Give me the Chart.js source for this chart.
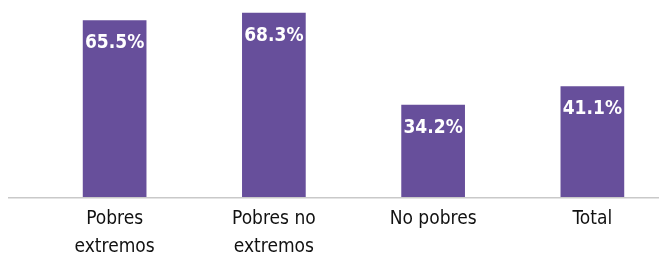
<!DOCTYPE html>
<html>
<head>
<meta charset="utf-8">
<script src="https://cdn.jsdelivr.net/npm/chart.js@4"></script>
<style>
  html, body { margin: 0; padding: 0; background: #fff; overflow: hidden; }
  #wrap { width: 672px; height: 269px; position: relative; }
</style>
</head>
<body>
<div id="wrap"><canvas id="povChart"></canvas></div>
<script>
const categories = [["Pobres", "extremos"], ["Pobres no", "extremos"], "No pobres", "Total"];
const values = [65.5, 68.3, 34.2, 41.1];
const valueLabels = ["65.5%", "68.3%", "34.2%", "41.1%"];

const fontFamily = '"Liberation Sans Narrow", "DejaVu Sans Condensed", "Roboto", sans-serif';

// draws the percent labels inside each bar
const barLabels = {
    id: 'barLabels',
    afterDatasetsDraw(chart) {
        const ctx = chart.ctx;
        const meta = chart.getDatasetMeta(0);
        ctx.save();
        ctx.fillStyle = '#ffffff';
        ctx.font = 'bold 19px ' + fontFamily;
        ctx.textAlign = 'center';
        ctx.textBaseline = 'middle';
        meta.data.forEach((bar, i) => {
            ctx.fillText(valueLabels[i], bar.x, bar.y + 23);
        });
        ctx.restore();
    }
};

// baseline runs almost the full width, past the plot area on the left
const baseLine = {
    id: 'baseLine',
    afterDatasetsDraw(chart) {
        const ctx = chart.ctx;
        const y = chart.chartArea.bottom + 0.5;
        ctx.save();
        ctx.strokeStyle = '#c9c9c9';
        ctx.lineWidth = 1.5;
        ctx.beginPath();
        ctx.moveTo(8, y);
        ctx.lineTo(chart.width, y);
        ctx.stroke();
        ctx.restore();
    }
};

new Chart(document.getElementById("povChart").getContext("2d"), {
    type: 'bar',
    data: {
        labels: categories,
        datasets: [{
            data: values,
            backgroundColor: '#674f9b',
            categoryPercentage: 1.0,
            barPercentage: 0.4
        }]
    },
    options: {
        responsive: true,
        maintainAspectRatio: false,
        animation: false,
        layout: { padding: { left: 35, right: 0, top: 0, bottom: 0 } },
        plugins: {
            legend: { display: false },
            tooltip: { enabled: false }
        },
        scales: {
            x: {
                grid: { display: false, drawTicks: false },
                border: { display: false },
                ticks: {
                    color: '#111111',
                    padding: 7,
                    maxRotation: 0,
                    autoSkip: false,
                    font: { family: fontFamily, size: 19, lineHeight: 1.52 }
                }
            },
            y: {
                display: false,
                min: 0,
                max: 73
            }
        }
    },
    plugins: [barLabels, baseLine]
});
</script>
</body>
</html>
